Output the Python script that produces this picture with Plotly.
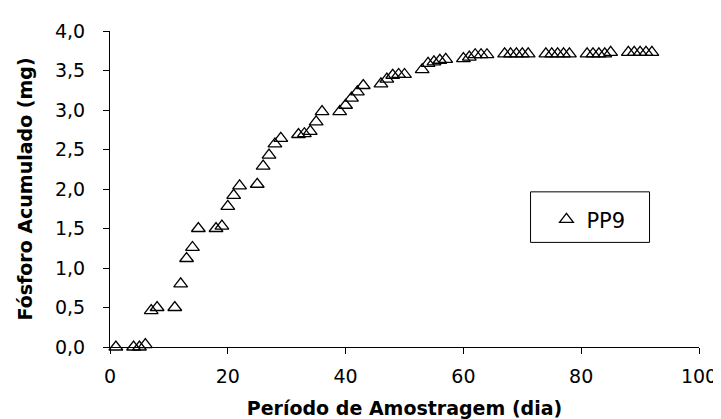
import plotly.graph_objects as go

days = [1, 4, 5, 6, 7, 8,
        11, 12, 13, 14, 15,
        18, 19, 20, 21, 22,
        25, 26, 27, 28, 29,
        32, 33, 34, 35, 36,
        39, 40, 41, 42, 43,
        46, 47, 48, 49, 50,
        53, 54, 55, 56, 57,
        60, 61, 62, 63, 64,
        67, 68, 69, 70, 71,
        74, 75, 76, 77, 78,
        81, 82, 83, 84, 85,
        88, 89, 90, 91, 92]

pp9 = [0.00, 0.00, 0.00, 0.03, 0.46, 0.50,
       0.50, 0.80, 1.12, 1.26, 1.50,
       1.50, 1.53, 1.78, 1.92, 2.04,
       2.06, 2.29, 2.43, 2.57, 2.64,
       2.69, 2.70, 2.73, 2.85, 2.98,
       2.98, 3.06, 3.15, 3.23, 3.31,
       3.33, 3.39, 3.44, 3.45, 3.45,
       3.51, 3.59, 3.61, 3.63, 3.64,
       3.65, 3.67, 3.70, 3.70, 3.70,
       3.71, 3.71, 3.71, 3.71, 3.71,
       3.71, 3.71, 3.71, 3.71, 3.71,
       3.71, 3.71, 3.71, 3.71, 3.73,
       3.73, 3.73, 3.73, 3.73, 3.73]

series_name = "PP9"
x_title = "Período de Amostragem (dia)"
y_title = "Fósforo Acumulado (mg)"

FONT = "DejaVu Sans, Arial, sans-serif"

fig = go.Figure()
fig.add_trace(go.Scatter(
    x=days, y=pp9, mode="markers", name=series_name,
    cliponaxis=False,
    marker=dict(symbol="triangle-up-open", size=12, color="black",
                line=dict(width=1.3, color="black")),
))

# legend frame
fig.add_shape(type="rect", xref="paper", yref="paper",
              x0=0.714, x1=0.916, y0=0.331, y1=0.491,
              line=dict(color="black", width=1), fillcolor="white", layer="below")

fig.update_layout(
    width=721, height=419,
    margin=dict(l=102, r=20, t=23, b=76),
    paper_bgcolor="white", plot_bgcolor="rgba(0,0,0,0)",
    separators=",.",
    font=dict(family=FONT, size=19, color="black"),
    showlegend=True,
    legend=dict(x=0.741, y=0.403, xanchor="left", yanchor="middle",
                borderwidth=0, bgcolor="rgba(0,0,0,0)",
                font=dict(size=21)),
    xaxis=dict(range=[0, 100], dtick=20, tick0=0, showline=True, linecolor="black",
               linewidth=1, ticks="outside", ticklen=6, tickcolor="black",
               showgrid=False, zeroline=False, ticklabelstandoff=6,
               tickfont=dict(size=19),
               title=dict(text="<b>" + x_title + "</b>", font=dict(size=19), standoff=15)),
    yaxis=dict(range=[0, 4], dtick=0.5, tick0=0, tickformat=".1f", showline=True,
               linecolor="black", linewidth=1, ticks="outside", ticklen=6,
               tickcolor="black", showgrid=False, zeroline=False,
               ticklabelstandoff=14, tickfont=dict(size=19),
               title=dict(text="<b>" + y_title + "</b>", font=dict(size=19), standoff=17)),
)

fig.write_html("out.html")
